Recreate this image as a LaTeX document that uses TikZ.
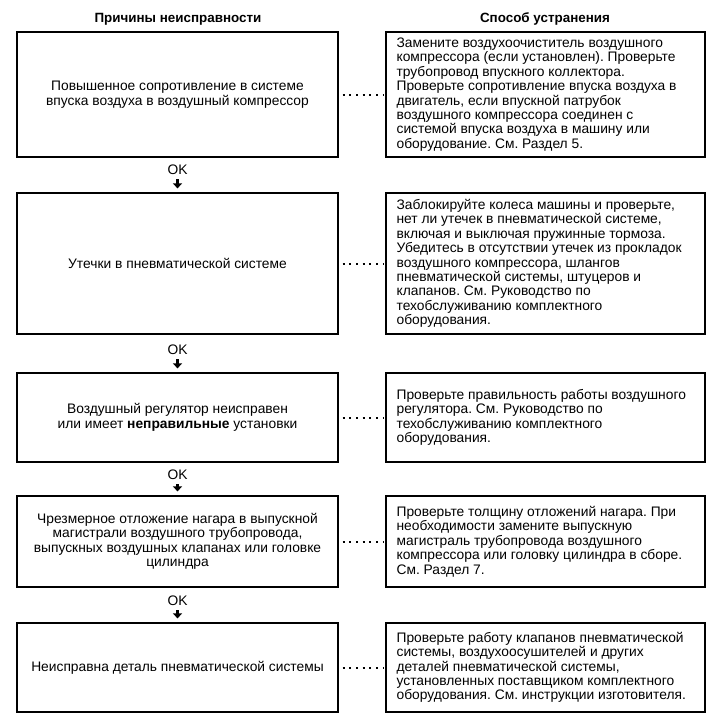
\documentclass[tikz,border=0pt]{standalone}
\usepackage{fontspec}
\setmainfont{Liberation Sans}
\usetikzlibrary{arrows.meta}
\frenchspacing
\begin{document}
\begin{tikzpicture}[x=1pt,y=-1pt,
  every node/.style={font=\fontsize{13.8}{14.4}\selectfont},
  causebox/.style={draw, line width=1.2pt, minimum width=321pt, align=center, inner sep=4pt},
  fixbox/.style={draw, line width=1.2pt, minimum width=319pt},
  fixtext/.style={anchor=west, align=left, inner sep=0pt},
  dotline/.style={line width=2pt, dash pattern=on 2pt off 4.7pt, shorten <=4pt, shorten >=1pt},
  okarrow/.style={-{Triangle[width=9pt,length=5pt]}, line width=3pt, shorten >=4pt, shorten <=1pt},
  header/.style={font=\fontsize{13.4}{15}\selectfont\bfseries}]
\useasboundingbox (0,0) rectangle (708,720);
\fill[white] (0,0) rectangle (708,720);

\node[header] (h1) at (178,19) {Причины неисправности};
\node[header] (h2) at (545,19) {Способ устранения};

% row 1
\node[causebox, minimum height=125pt] (c1) at (177.5,94.5)
  {Повышенное сопротивление в системе\\впуска воздуха в воздушный компрессор};
\node[fixbox, minimum height=125pt] (f1) at (545.5,94.5) {};
\node[fixtext] (t1) at ([xshift=11pt]f1.west)
  {Замените воздухоочиститель воздушного\\компрессора (если установлен). Проверьте\\трубопровод впускного коллектора.\\Проверьте сопротивление впуска воздуха в\\двигатель, если впускной патрубок\\воздушного компрессора соединен с\\системой впуска воздуха в машину или\\оборудование. См. Раздел 5.};

% row 2
\node[causebox, minimum height=141pt] (c2) at (177.5,263.5)
  {Утечки в пневматической системе};
\node[fixbox, minimum height=141pt] (f2) at (545.5,263.5) {};
\node[fixtext] (t2) at ([xshift=11pt]f2.west)
  {Заблокируйте колеса машины и проверьте,\\нет ли утечек в пневматической системе,\\включая и выключая пружинные тормоза.\\Убедитесь в отсутствии утечек из прокладок\\воздушного компрессора, шлангов\\пневматической системы, штуцеров и\\клапанов. См. Руководство по\\техобслуживанию комплектного\\оборудования.};

% row 3
\node[causebox, minimum height=89pt] (c3) at (177.5,417.5)
  {Воздушный регулятор неисправен\\или имеет \textbf{неправильные} установки};
\node[fixbox, minimum height=89pt] (f3) at (545.5,417.5) {};
\node[fixtext] (t3) at ([xshift=11pt]f3.west)
  {Проверьте правильность работы воздушного\\регулятора. См. Руководство по\\техобслуживанию комплектного\\оборудования.};

% row 4
\node[causebox, minimum height=91pt] (c4) at (177.5,541.5)
  {Чрезмерное отложение нагара в выпускной\\магистрали воздушного трубопровода,\\выпускных воздушных клапанах или головке\\цилиндра};
\node[fixbox, minimum height=91pt] (f4) at (545.5,541.5) {};
\node[fixtext] (t4) at ([xshift=11pt]f4.west)
  {Проверьте толщину отложений нагара. При\\необходимости замените выпускную\\магистраль трубопровода воздушного\\компрессора или головку цилиндра в сборе.\\См. Раздел 7.};

% row 5
\node[causebox, minimum height=89pt] (c5) at (177.5,667.5)
  {Неисправна деталь пневматической системы};
\node[fixbox, minimum height=89pt] (f5) at (545.5,667.5) {};
\node[fixtext] (t5) at ([xshift=11pt]f5.west)
  {Проверьте работу клапанов пневматической\\системы, воздухоосушителей и других\\деталей пневматической системы,\\установленных поставщиком комплектного\\оборудования. См. инструкции изготовителя.};

% dotted connectors
\foreach \i in {1,...,5} {
  \draw[dotline] (c\i.east) -- (f\i.west);
}

% OK labels and arrows
\node (ok1) at (177.5,170) {OK};
\node (ok2) at (177.5,350) {OK};
\node (ok3) at (177.5,475) {OK};
\node (ok4) at (177.5,601) {OK};
\draw[okarrow] (ok1.south) -- (c2.north);
\draw[okarrow] (ok2.south) -- (c3.north);
\draw[okarrow] (ok3.south) -- (c4.north);
\draw[okarrow] (ok4.south) -- (c5.north);
\end{tikzpicture}
\end{document}
